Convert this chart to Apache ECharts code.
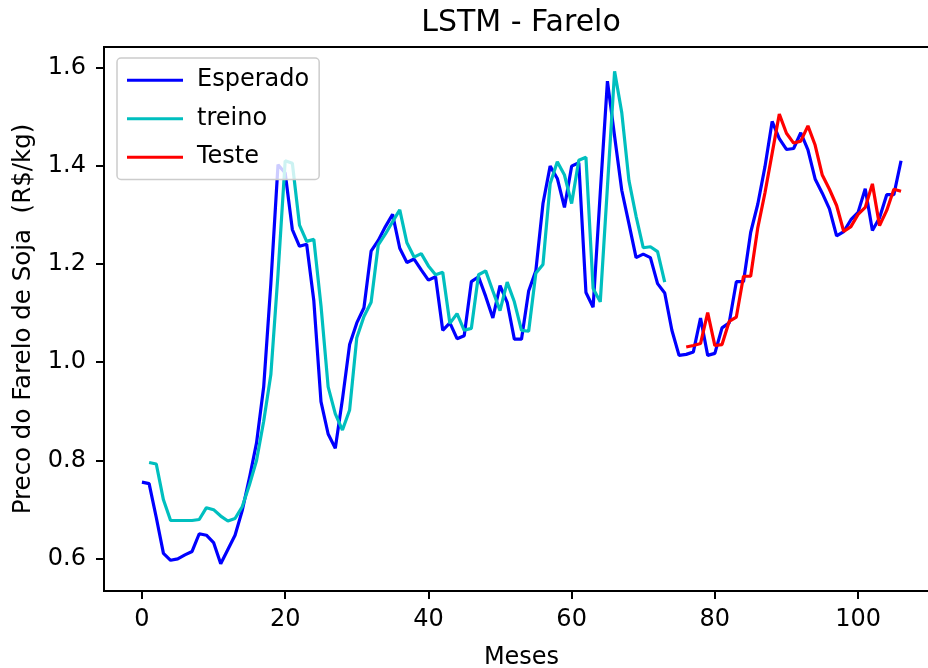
<!DOCTYPE html>
<html>
<head>
<meta charset="utf-8">
<script src="https://cdn.jsdelivr.net/npm/echarts@6/dist/echarts.min.js"></script>
<style>
    html, body { margin: 0; padding: 0; background: #fff; overflow: hidden; }
    /* wider than the window: the plot box runs past the right edge, as in the original */
    #chart { width: 960px; height: 668px; }
</style>
</head>
<body>
<div id="chart"></div>
<script>

// Data
var esperado = [
    0.756, 0.753, 0.684, 0.611, 0.597, 0.600, 0.608, 0.615, 0.651, 0.648,
    0.633, 0.590, 0.619, 0.648, 0.698, 0.764, 0.836, 0.950, 1.160, 1.402,
    1.385, 1.270, 1.236, 1.240, 1.125, 0.920, 0.854, 0.825, 0.925, 1.036,
    1.080, 1.111, 1.226, 1.248, 1.276, 1.301, 1.232, 1.203, 1.210, 1.188,
    1.167, 1.174, 1.065, 1.080, 1.048, 1.054, 1.164, 1.174, 1.134, 1.090,
    1.156, 1.122, 1.047, 1.047, 1.145, 1.186, 1.323, 1.399, 1.374, 1.315,
    1.399, 1.406, 1.142, 1.112, 1.345, 1.572, 1.460, 1.350, 1.282, 1.213,
    1.220, 1.213, 1.160, 1.141, 1.065, 1.014, 1.016, 1.021, 1.090, 1.014,
    1.018, 1.070, 1.080, 1.164, 1.164, 1.264, 1.322, 1.398, 1.490, 1.455,
    1.433, 1.435, 1.467, 1.432, 1.373, 1.344, 1.312, 1.257, 1.266, 1.290,
    1.305, 1.353, 1.268, 1.294, 1.341, 1.341, 1.410
];
var treinoInicio = 1;
var treino = [
    0.796, 0.793, 0.720, 0.678, 0.678, 0.678, 0.678, 0.680, 0.704, 0.700,
    0.687, 0.677, 0.682, 0.706, 0.750, 0.800, 0.880, 0.975, 1.180, 1.410,
    1.405, 1.279, 1.246, 1.250, 1.115, 0.950, 0.895, 0.862, 0.903, 1.050,
    1.093, 1.122, 1.239, 1.261, 1.286, 1.310, 1.243, 1.214, 1.221, 1.196,
    1.178, 1.183, 1.079, 1.099, 1.065, 1.069, 1.178, 1.186, 1.145, 1.105,
    1.163, 1.123, 1.065, 1.063, 1.181, 1.199, 1.363, 1.408, 1.381, 1.323,
    1.411, 1.417, 1.150, 1.123, 1.357, 1.592, 1.508, 1.370, 1.297, 1.233,
    1.235, 1.225, 1.163
];
var testeInicio = 76;
var teste = [
    1.031, 1.034, 1.038, 1.101, 1.034, 1.036, 1.083, 1.092, 1.175, 1.175,
    1.274, 1.345, 1.425, 1.505, 1.466, 1.446, 1.450, 1.481, 1.442, 1.381,
    1.352, 1.319, 1.266, 1.276, 1.301, 1.315, 1.363, 1.278, 1.309, 1.352,
    1.348
];
var xTicks = [0, 20, 40, 60, 80, 100];
var yTicks = [0.6, 0.8, 1.0, 1.2, 1.4, 1.6];

// month index -> [x, y] pairs
var toPairs = function(values, start) {
    return values.map(function(v, i) { return [start + i, v]; });
};

var chart = echarts.init(document.getElementById('chart'));
var font = 'DejaVu Sans';

chart.setOption({
    animation: false,
    color: ['#0000ff', '#00bfbf', '#ff0000'],
    textStyle: { fontFamily: font, color: '#000' },

    title: {
        text: 'LSTM - Farelo',
        left: 516,
        top: 3,
        textAlign: 'center',
        textStyle: { fontFamily: font, fontSize: 30, fontWeight: 'normal', color: '#000' }
    },

    legend: {
        orient: 'vertical',
        left: 117,
        top: 58,
        data: ['Esperado', 'treino', 'Teste'],
        icon: 'rect',
        itemWidth: 56,
        itemHeight: 3,
        itemGap: 14,
        padding: [10, 10, 10, 10],
        backgroundColor: 'rgba(255,255,255,0.8)',
        borderColor: '#cccccc',
        borderWidth: 1.5,
        borderRadius: 4,
        textStyle: { fontFamily: font, fontSize: 24, color: '#000', padding: [0, 0, 0, 9], lineHeight: 24.5 }
    },

    grid: {
        left: 104,
        top: 47,
        width: 835,
        height: 544,
        outerBoundsMode: 'none',
        containLabel: false,
        show: true,
        borderColor: '#000',
        borderWidth: 2,
        backgroundColor: '#fff'
    },

    xAxis: {
        type: 'value',
        min: -5.3,
        max: 111.3,
        name: 'Meses',
        nameLocation: 'middle',
        nameGap: 55,
        nameTextStyle: { fontFamily: font, fontSize: 24, color: '#000' },
        axisLine: { show: false, onZero: false },
        axisTick: { show: true, length: 8, lineStyle: { color: '#000', width: 2 }, customValues: xTicks },
        axisLabel: { fontFamily: font, fontSize: 24, color: '#000', margin: 17, customValues: xTicks },
        splitLine: { show: false }
    },

    yAxis: {
        type: 'value',
        min: 0.5345,
        max: 1.6415,
        name: 'Preco do Farelo de Soja  (R$/kg)',
        nameLocation: 'middle',
        nameGap: 68,
        nameTextStyle: { fontFamily: font, fontSize: 24.5, color: '#000' },
        axisLine: { show: false, onZero: false },
        axisTick: { show: true, length: 8, lineStyle: { color: '#000', width: 2 }, customValues: yTicks },
        axisLabel: {
            fontFamily: font, fontSize: 24, color: '#000', margin: 18, customValues: yTicks,
            formatter: function(v) { return v.toFixed(1); }
        },
        splitLine: { show: false }
    },

    series: [{
        name: 'Esperado',
        type: 'line',
        showSymbol: false,
        lineStyle: { width: 3.2 },
        data: toPairs(esperado, 0)
    }, {
        name: 'treino',
        type: 'line',
        showSymbol: false,
        lineStyle: { width: 3.2 },
        data: toPairs(treino, treinoInicio)
    }, {
        name: 'Teste',
        type: 'line',
        showSymbol: false,
        lineStyle: { width: 3.2 },
        data: toPairs(teste, testeInicio)
    }]
});

</script>
</body>
</html>
